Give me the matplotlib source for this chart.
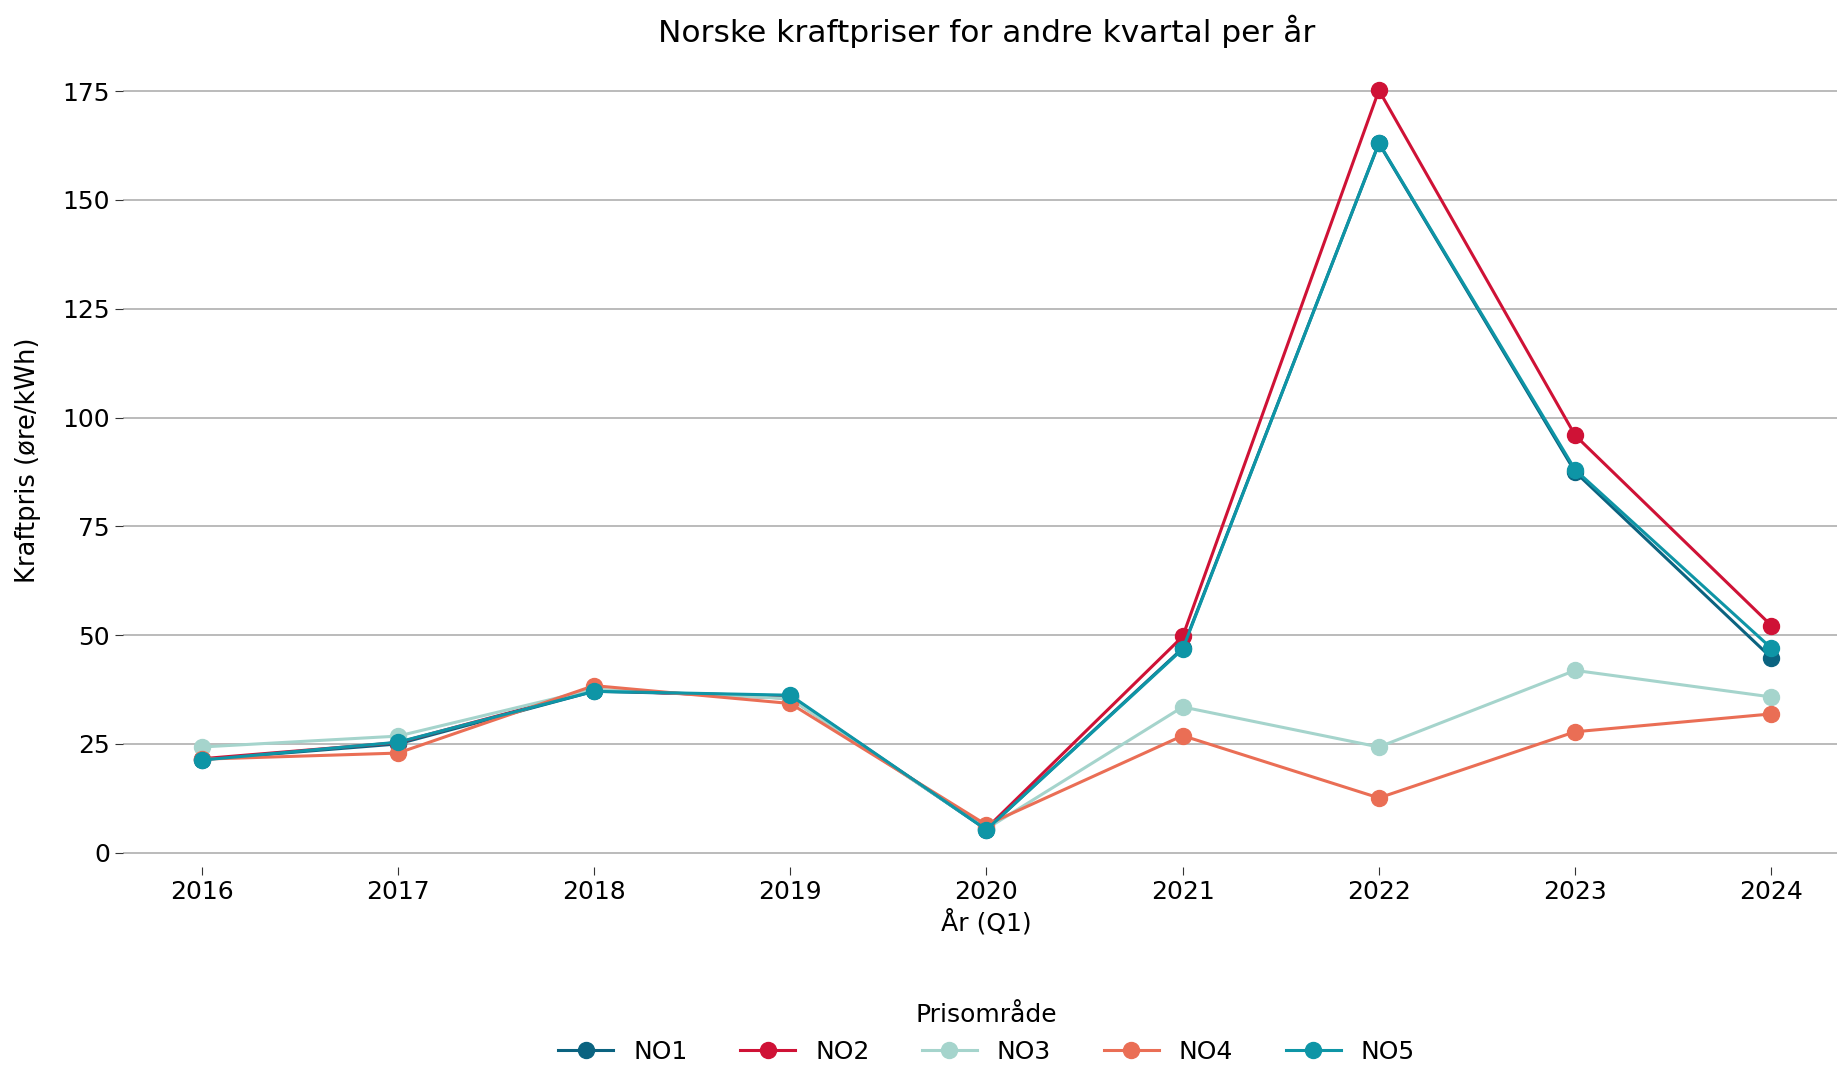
import numpy as np
import matplotlib.pyplot as plt

# Gjennomsnittlig kraftpris per prisområde (øre/kWh)
aar = [2016, 2017, 2018, 2019, 2020, 2021, 2022, 2023, 2024]
no1 = [21.4, 25.0, 37.1, 36.0, 5.3, 47.0, 163.0, 87.5, 44.8]
no2 = [21.6, 25.3, 37.4, 35.5, 5.6, 49.7, 175.2, 95.9, 52.2]
no3 = [24.3, 26.8, 37.6, 35.4, 5.5, 33.5, 24.3, 41.9, 35.8]
no4 = [21.5, 22.9, 38.4, 34.3, 6.4, 26.9, 12.6, 27.8, 31.9]
no5 = [21.3, 25.4, 37.1, 36.2, 5.3, 46.8, 163.1, 88.0, 47.0]

omraader = ['NO1', 'NO2', 'NO3', 'NO4', 'NO5']
serier = [no1, no2, no3, no4, no5]
farger = ['#0b6380', '#cf1236', '#a5d4cc', '#ea6e55', '#0e95a6']

fig = plt.figure(figsize=(18.37, 10.66), dpi=100)
ax = fig.add_axes([0.067, 0.187, 0.94, 0.763])

for navn, verdier, farge in zip(omraader, serier, farger):
    ax.plot(aar, verdier, marker='o', color=farge, label=navn,
            linewidth=2.2, markersize=11.5)

ax.set_title('Norske kraftpriser for andre kvartal per år', fontsize=22.5, pad=8)
ax.set_xlabel('År (Q1)', fontsize=18)
ax.set_ylabel('Kraftpris (øre/kWh)', fontsize=18.5, labelpad=15)
ax.set_xticks(aar)
ax.tick_params(labelsize=18, length=6, color='#333333')
ax.set_yticks(np.arange(0, 176, 25))

ax.grid(axis='y', color='#b5b5b5', linewidth=1.3)
ax.set_axisbelow(True)
for side in ax.spines.values():
    side.set_visible(False)

ax.legend(title='Prisområde', loc='upper center', bbox_to_anchor=(0.5, -0.14),
          ncol=5, frameon=False, fontsize=18, title_fontsize=18,
          columnspacing=2.1, handlelength=2.2)

fig.savefig('out.png', dpi=100)
